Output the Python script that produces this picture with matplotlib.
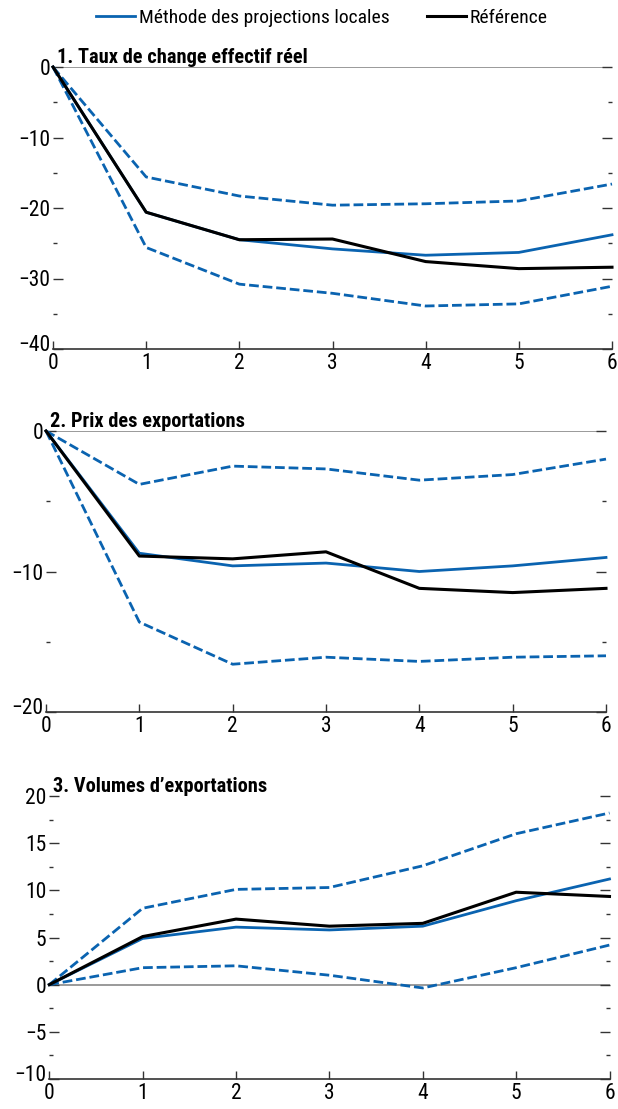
import matplotlib
matplotlib.use("Agg")
import matplotlib.pyplot as plt
from matplotlib import font_manager as fm
from matplotlib.ticker import MultipleLocator
from matplotlib.transforms import ScaledTranslation

# Pick a condensed sans face if one is available
def pick_font(names):
    for n in names:
        try:
            fm.findfont(fm.FontProperties(family=n), fallback_to_default=False)
            return n
        except Exception:
            continue
    return "DejaVu Sans"

FONT = pick_font(["Liberation Sans Narrow", "Roboto Condensed", "Liberation Sans"])
plt.rcParams["font.family"] = [FONT, "DejaVu Sans"]
plt.rcParams["axes.unicode_minus"] = True

horizons = [0, 1, 2, 3, 4, 5, 6]

# Panel 1: real effective exchange rate
reer_lp = [0, -20.6, -24.5, -25.8, -26.7, -26.3, -23.8]
reer_lp_hi = [0, -15.6, -18.3, -19.6, -19.4, -19.0, -16.6]
reer_lp_lo = [0, -25.6, -30.8, -32.1, -33.9, -33.6, -31.1]
reer_ref = [0, -20.6, -24.5, -24.4, -27.6, -28.6, -28.4]

# Panel 2: export prices
px_lp = [0, -8.7, -9.6, -9.4, -10.0, -9.6, -9.0]
px_lp_hi = [0, -3.8, -2.5, -2.7, -3.5, -3.1, -2.0]
px_lp_lo = [0, -13.6, -16.6, -16.1, -16.4, -16.1, -16.0]
px_ref = [0, -8.9, -9.1, -8.6, -11.2, -11.5, -11.2]

# Panel 3: export volumes
vol_lp = [0, 4.9, 6.1, 5.8, 6.2, 8.9, 11.2]
vol_lp_hi = [0, 8.1, 10.1, 10.3, 12.6, 16.0, 18.2]
vol_lp_lo = [0, 1.8, 2.0, 1.0, -0.35, 1.8, 4.2]
vol_ref = [0, 5.1, 6.95, 6.2, 6.5, 9.8, 9.35]

titles = ["1. Taux de change effectif réel",
          "2. Prix des exportations",
          "3. Volumes d\u2019exportations"]
legend_labels = ["Méthode des projections locales", "Référence"]

BLUE = "#0a63b0"
FS_TICK = 15.5
FS_TITLE = 14.7
FS_LEG = 14

fig = plt.figure(figsize=(6.18, 11.09), dpi=100)
W, H = 618.0, 1109.0

# axes boxes in pixel coordinates: left, right, top, bottom
boxes = [(53, 612, 67, 349), (46, 606, 431, 712), (49.3, 609.5, 796, 1079)]
ylims = [(-40, 0), (-20, 0), (-10, 20)]
ymajor = [10, 10, 5]
yminor = [5, 5, 2.5]
panels = [(reer_lp, reer_lp_hi, reer_lp_lo, reer_ref),
          (px_lp, px_lp_hi, px_lp_lo, px_ref),
          (vol_lp, vol_lp_hi, vol_lp_lo, vol_ref)]

DASH = (0, (3.5, 1.4))
lift = ScaledTranslation(0, 4 / 72, fig.dpi_scale_trans)
handles = None
for i, (box, yl, panel) in enumerate(zip(boxes, ylims, panels)):
    l, r, t, b = box
    ax = fig.add_axes([l / W, 1 - b / H, (r - l) / W, (b - t) / H])
    lp, hi, lo, ref = panel
    ax.axhline(0, color="#7f7f7f", lw=1.1, zorder=1)
    ax.plot(horizons, hi, color=BLUE, lw=2.0, ls=DASH, zorder=2, clip_on=False)
    ax.plot(horizons, lo, color=BLUE, lw=2.0, ls=DASH, zorder=2, clip_on=False)
    h1, = ax.plot(horizons, lp, color=BLUE, lw=2.0, zorder=3, clip_on=False)
    h2, = ax.plot(horizons, ref, color="black", lw=2.2, zorder=4, clip_on=False)
    if handles is None:
        handles = [h1, h2]
    ax.set_xlim(0, 6)
    ax.set_ylim(*yl)
    for s in ["left", "right", "top"]:
        ax.spines[s].set_visible(False)
    ax.spines["bottom"].set_color("#333333")
    ax.spines["bottom"].set_linewidth(1.2)
    ax.set_xticks(horizons)
    ax.yaxis.set_major_locator(MultipleLocator(ymajor[i]))
    ax.yaxis.set_minor_locator(MultipleLocator(yminor[i]))
    ax.tick_params(axis="x", direction="in", length=6, width=1.0, color="#333333",
                   labelsize=FS_TICK, pad=3)
    ax.tick_params(axis="y", which="major", direction="in", length=7, width=1.0,
                   color="#333333", labelsize=FS_TICK, pad=2, left=True, right=True)
    ax.tick_params(axis="y", which="minor", direction="in", length=3, width=1.0,
                   color="#333333", left=True, right=True)
    # lift the lowest y label a touch so it clears the first x label
    locs = list(ax.yaxis.get_majorticklocs())
    ticks = ax.yaxis.get_major_ticks(len(locs))
    for loc, tk in zip(locs, ticks):
        if abs(loc - yl[0]) < 1e-9:
            tk.label1.set_transform(tk.label1.get_transform() + lift)
    ax.text(0.007, 1.0, titles[i], transform=ax.transAxes, ha="left", va="bottom",
            fontsize=FS_TITLE, fontweight="bold")

fig.legend(handles, legend_labels, loc="center", bbox_to_anchor=(0.521, 1 - 18 / H),
           ncol=2, frameon=False, fontsize=FS_LEG, handlelength=2.0, handletextpad=0.2,
           columnspacing=1.9)

fig.savefig("out.png", dpi=100)
